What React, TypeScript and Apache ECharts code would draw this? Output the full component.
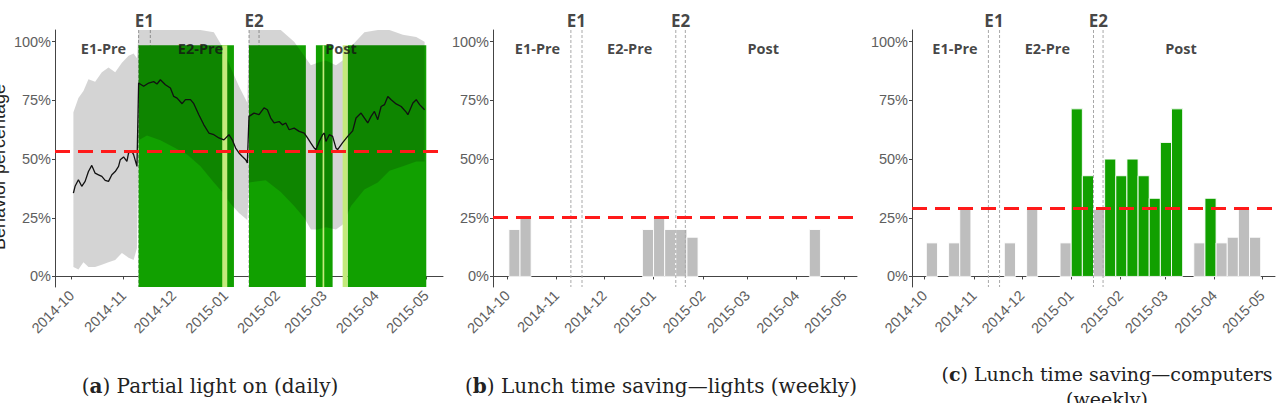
import React, { useEffect, useRef } from "react";
import * as echarts from "echarts";

// ---------- shared time frame ----------
const monthTicks = [
  "2014-10-01", "2014-11-01", "2014-12-01", "2015-01-01",
  "2015-02-01", "2015-03-01", "2015-04-01", "2015-05-01",
];
const eventNames = ["E1", "E2"];
const eventWindows = [
  ["2014-11-10", "2014-11-17"],
  ["2015-01-15", "2015-01-21"],
];
const periodNames = ["E1-Pre", "E2-Pre", "Post"];
const periodCenters = ["2014-10-20", "2014-12-17", "2015-03-11"];

// ---------- (a) partial light on, daily ----------
const lightDays = [
  "2014-10-02", "2014-10-03", "2014-10-05", "2014-10-07", "2014-10-09", "2014-10-11",
  "2014-10-13", "2014-10-15", "2014-10-17", "2014-10-19", "2014-10-21", "2014-10-23",
  "2014-10-25", "2014-10-27", "2014-10-29", "2014-10-30", "2014-11-01", "2014-11-03",
  "2014-11-04", "2014-11-06", "2014-11-07", "2014-11-09", "2014-11-10", "2014-11-13",
  "2014-11-16", "2014-11-19", "2014-11-21", "2014-11-23", "2014-11-26", "2014-11-29",
  "2014-12-01", "2014-12-03", "2014-12-06", "2014-12-08", "2014-12-11", "2014-12-13",
  "2014-12-16", "2014-12-19", "2014-12-22", "2014-12-25", "2014-12-28", "2014-12-31",
  "2015-01-03", "2015-01-05", "2015-01-07", "2015-01-09", "2015-01-11", "2015-01-13",
  "2015-01-14", "2015-01-15", "2015-01-18", "2015-01-21", "2015-01-24", "2015-01-26",
  "2015-01-28", "2015-01-30", "2015-02-02", "2015-02-04", "2015-02-06", "2015-02-08",
  "2015-02-11", "2015-02-14", "2015-02-17", "2015-02-19", "2015-02-21", "2015-02-23",
  "2015-02-24", "2015-02-26", "2015-02-28", "2015-03-01", "2015-03-02", "2015-03-04",
  "2015-03-06", "2015-03-08", "2015-03-09", "2015-03-12", "2015-03-15", "2015-03-18",
  "2015-03-20", "2015-03-23", "2015-03-27", "2015-03-29", "2015-03-31", "2015-04-02",
  "2015-04-04", "2015-04-06", "2015-04-08", "2015-04-10", "2015-04-13", "2015-04-16",
  "2015-04-19", "2015-04-20", "2015-04-23", "2015-04-25", "2015-04-27", "2015-04-30",
];
const lightOn = [
  35.5, 38.4, 41.2, 38.4, 40.5, 44.7,
  47.3, 44.0, 43.3, 42.6, 40.9, 40.5,
  43.3, 44.7, 46.9, 49.7, 50.9, 49.0,
  52.6, 53.3, 51.9, 46.9, 82.4, 81.0,
  82.4, 83.0, 82.0, 83.8, 81.7, 80.3,
  76.7, 76.0, 73.6, 75.3, 75.3, 73.6,
  68.9, 64.6, 61.1, 60.4, 59.0, 58.2,
  60.4, 58.2, 54.7, 52.6, 51.1, 49.7,
  48.3, 68.2, 69.6, 68.9, 71.8, 71.0,
  67.5, 65.4, 66.0, 64.6, 65.4, 62.5,
  63.2, 61.8, 61.1, 59.0, 56.8, 54.7,
  54.0, 57.5, 60.4, 61.1, 57.5, 60.4,
  59.7, 54.7, 54.0, 57.0, 59.7, 62.0,
  67.5, 69.6, 65.4, 68.2, 70.3, 66.8,
  72.4, 73.2, 76.7, 75.3, 73.5, 72.4,
  70.0, 68.9, 73.9, 75.3, 73.2, 71.0,
];

// uncertainty band around the daily share
const bandDays = [
  "2014-10-02", "2014-10-05", "2014-10-08", "2014-10-11", "2014-10-15", "2014-10-19",
  "2014-10-23", "2014-10-27", "2014-10-31", "2014-11-04", "2014-11-07", "2014-11-09",
  "2014-11-10", "2014-11-15", "2014-11-23", "2014-12-01", "2014-12-09", "2014-12-17",
  "2014-12-25", "2014-12-30", "2015-01-04", "2015-01-09", "2015-01-14", "2015-01-15",
  "2015-01-25", "2015-02-03", "2015-02-11", "2015-02-17", "2015-02-21", "2015-02-25",
  "2015-03-02", "2015-03-08", "2015-03-12", "2015-03-17", "2015-03-25", "2015-04-02",
  "2015-04-09", "2015-04-17", "2015-04-25", "2015-04-30",
];
const bandLow = [
  4, 3, 6, 4, 4, 5,
  6, 7, 10, 8, 7, 12,
  58, 60, 58, 55, 52, 47,
  40, 36, 31, 27, 24, 40,
  41, 36, 30, 25, 20, 20,
  21, 20, 22, 30, 37, 40,
  45, 47, 49, 49,
];
const bandHigh = [
  70, 76, 79, 84, 83, 87,
  89, 87, 91, 94, 95, 93,
  115, 115, 115, 115, 112, 108,
  104, 98, 89, 81, 74, 112,
  112, 106, 100, 94, 90, 91,
  92, 90, 92, 98, 104, 106,
  105, 103, 102, 100,
];
const lightBaseline = 53.3;
// stretches where the daily share stays above the baseline
const aboveSpans = [
  ["2014-11-10", "2015-01-06"],
  ["2015-01-15", "2015-02-18"],
  ["2015-02-24", "2015-03-06"],
  ["2015-03-15", "2015-05-01"],
];
// borderline stretches
const marginalSpans = [
  ["2014-12-30", "2015-01-02"],
  ["2015-02-28", "2015-03-01"],
  ["2015-03-12", "2015-03-15"],
];

// ---------- (b) and (c) weekly lunch time saving ----------
const weekStarts = [
  "2014-10-02", "2014-10-09", "2014-10-16", "2014-10-23", "2014-10-30", "2014-11-06",
  "2014-11-13", "2014-11-20", "2014-11-27", "2014-12-04", "2014-12-11", "2014-12-18",
  "2014-12-25", "2015-01-01", "2015-01-08", "2015-01-15", "2015-01-22", "2015-01-29",
  "2015-02-05", "2015-02-12", "2015-02-19", "2015-02-26", "2015-03-05", "2015-03-12",
  "2015-03-19", "2015-03-26", "2015-04-02", "2015-04-09", "2015-04-16", "2015-04-23",
];
const lightsSaving = [
  20, 25, null, null, null, null,
  null, null, null, null, null, null,
  20, 25, 20, 20, 16.7, null,
  null, null, null, null, null, null,
  null, null, null, 20, null, null,
];
const computersSaving = [
  14.3, null, 14.3, 28.6, null, null,
  null, 14.3, null, 28.6, null, null,
  14.3, 71.4, 42.9, 28.6, 50, 42.9,
  50, 42.9, 33.3, 57.1, 71.4, null,
  14.3, 33.3, 14.3, 16.7, 28.6, 16.7,
];
const lightsBaseline = 25.3;
const computersBaseline = 28.9;

// ---------- drawing ----------
const DAY_MS = 86400000;
const ts = (s: string): number => {
  const [y, m, d] = s.split("-").map(Number);
  return Date.UTC(y, m - 1, d);
};

const GREEN = "#11a000";
const PALE_GREEN = "#c4ea7c";
const BAR_GRAY = "#bebebe";
const BAND_FILL = "rgba(0,0,0,0.17)";
const AXIS_COLOR = "#444";
const TICK_TEXT = "#5e5e5e";
const Y_MIN = -4.5;
const Y_MAX = 105;
const LABEL_FONT = "Open Sans";

const panels = [
  { left: 55, width: 388, min: "2014-09-21", max: "2015-05-11" },
  { left: 493, width: 364, min: "2014-09-22", max: "2015-05-09" },
  { left: 912, width: 363, min: "2014-09-23", max: "2015-05-09" },
];

const monthLabel = (v: number) => {
  const d = new Date(v);
  return `${d.getUTCFullYear()}-${String(d.getUTCMonth() + 1).padStart(2, "0")}`;
};

const eventLineSeries = (idx: number, z: number) => ({
  type: "custom",
  xAxisIndex: idx,
  yAxisIndex: idx,
  silent: true,
  z,
  data: eventWindows.flat().map((d) => [ts(d), 0]),
  renderItem: (params: any, api: any) => {
    const cs = params.coordSys;
    const x = api.coord([api.value(0), 0])[0];
    return {
      type: "line",
      shape: { x1: x, y1: cs.y, x2: x, y2: cs.y + cs.height },
      style: { stroke: "#a8a8a8", lineWidth: 1, lineDash: [3, 2] },
    };
  },
});

const spanSeries = (spans: string[][], fill: string, z: number) => ({
  type: "custom",
  xAxisIndex: 0,
  yAxisIndex: 0,
  silent: true,
  z,
  data: spans.map(([a, b]) => [ts(a), ts(b), 98.5]),
  renderItem: (params: any, api: any) => {
    const cs = params.coordSys;
    const p0 = api.coord([api.value(0), api.value(2)]);
    const p1 = api.coord([api.value(1), 0]);
    return {
      type: "rect",
      shape: { x: p0[0], y: p0[1], width: p1[0] - p0[0], height: cs.y + cs.height - p0[1] },
      style: { fill },
    };
  },
});

// the band is one polygon: upper edge forwards, lower edge backwards,
// kept inside the plotting range
const bandSeries = {
  type: "custom",
  xAxisIndex: 0,
  yAxisIndex: 0,
  silent: true,
  clip: true,
  z: 3,
  data: [[ts(bandDays[0]), bandLow[0]]],
  renderItem: (_params: any, api: any) => {
    const upper = bandDays.map((d, i) => api.coord([ts(d), Math.min(bandHigh[i], Y_MAX)]));
    const lower = bandDays.map((d, i) => api.coord([ts(d), bandLow[i]])).reverse();
    return {
      type: "polygon",
      shape: { points: upper.concat(lower) },
      style: { fill: BAND_FILL },
    };
  },
};

const weeklyBarSeries = (idx: number, values: (number | null)[], baseline: number) => ({
  type: "custom",
  xAxisIndex: idx,
  yAxisIndex: idx,
  silent: true,
  z: 2,
  data: weekStarts
    .map((d, i) => [ts(d), values[i]])
    .filter((p) => p[1] !== null),
  renderItem: (_params: any, api: any) => {
    const start = api.value(0);
    const v = api.value(1);
    const p0 = api.coord([start, v]);
    const p1 = api.coord([start + 7 * DAY_MS, 0]);
    return {
      type: "rect",
      shape: { x: p0[0], y: p0[1], width: p1[0] - p0[0], height: p1[1] - p0[1] },
      style: { fill: v > baseline ? GREEN : BAR_GRAY, stroke: "#ffffff", lineWidth: 0.9 },
    };
  },
});

const labelSeries = (idx: number, baseline: number) => ({
  type: "scatter",
  xAxisIndex: idx,
  yAxisIndex: idx,
  symbolSize: 0,
  clip: false,
  silent: true,
  z: 10,
  data: [
    ...eventNames.map((n, k) => ({
      name: n,
      value: [(ts(eventWindows[k][0]) + ts(eventWindows[k][1])) / 2, 109.2],
      label: { fontSize: 17 },
    })),
    ...periodNames.map((n, k) => ({
      name: n,
      value: [ts(periodCenters[k]), 97.2],
      label: { fontSize: 14.5 },
    })),
  ],
  label: {
    show: true,
    position: "inside",
    formatter: "{b}",
    color: "#141414",
    fontWeight: "bold",
    fontFamily: LABEL_FONT,
  },
  markLine: {
    silent: true,
    symbol: ["none", "none"],
    label: { show: false },
    lineStyle: { color: "#ff1a1a", width: 3, type: [15, 8] },
    data: [{ yAxis: baseline }],
    z: 10,
  },
});

const captionStyle = (text: string, size: number) => ({
  text,
  fill: "#222",
  fontSize: size,
  fontFamily: "DejaVu Serif",
  textAlign: "center",
  textVerticalAlign: "middle",
  rich: { b: { fontWeight: "bold", fontSize: size, fontFamily: "DejaVu Serif", fill: "#222" } },
});

function buildOption() {
  const monthTs = monthTicks.map(ts);
  return {
    animation: false,
    backgroundColor: "#ffffff",
    grid: panels.map((p) => ({
      left: p.left,
      top: 30,
      width: p.width,
      height: 257,
      containLabel: false,
      outerBoundsMode: "none",
    })),
    // dates are kept as UTC milliseconds on a plain numeric axis
    xAxis: panels.map((p, i) => ({
      type: "value",
      gridIndex: i,
      min: ts(p.min),
      max: ts(p.max),
      splitLine: { show: false },
      axisLine: { show: true, lineStyle: { color: AXIS_COLOR, width: 1 } },
      axisTick: { show: true, length: 3, customValues: monthTs, lineStyle: { color: AXIS_COLOR } },
      axisLabel: {
        customValues: monthTs,
        rotate: 45,
        margin: 6,
        color: TICK_TEXT,
        fontSize: 14.5,
        fontFamily: "Liberation Sans",
        formatter: (v: number) => monthLabel(v),
      },
    })),
    yAxis: panels.map((_p, i) => ({
      type: "value",
      gridIndex: i,
      min: Y_MIN,
      max: Y_MAX,
      splitLine: { show: false },
      axisLine: { show: true, lineStyle: { color: AXIS_COLOR, width: 1 } },
      axisTick: { show: true, length: 3, customValues: [0, 25, 50, 75, 100], lineStyle: { color: AXIS_COLOR } },
      axisLabel: {
        customValues: [0, 25, 50, 75, 100],
        formatter: "{value}%",
        margin: 4,
        color: TICK_TEXT,
        fontSize: 14.5,
        fontFamily: "Liberation Sans",
      },
    })),
    series: [
      // (a)
      eventLineSeries(0, 1),
      spanSeries(aboveSpans, GREEN, 2),
      bandSeries,
      spanSeries(marginalSpans, PALE_GREEN, 4),
      {
        type: "line",
        xAxisIndex: 0,
        yAxisIndex: 0,
        silent: true,
        z: 5,
        symbol: "none",
        lineStyle: { color: "#111111", width: 1.3 },
        data: lightDays.map((d, i) => [ts(d), lightOn[i]]),
      },
      labelSeries(0, lightBaseline),
      // (b)
      weeklyBarSeries(1, lightsSaving, lightsBaseline),
      eventLineSeries(1, 3),
      labelSeries(1, lightsBaseline),
      // (c)
      weeklyBarSeries(2, computersSaving, computersBaseline),
      eventLineSeries(2, 3),
      labelSeries(2, computersBaseline),
    ],
    graphic: [
      {
        type: "text",
        x: -1,
        y: 167,
        rotation: Math.PI / 2,
        style: {
          text: "Behavior percentage",
          fill: "#222",
          fontSize: 18,
          fontFamily: "Liberation Sans",
          textAlign: "center",
          textVerticalAlign: "middle",
        },
      },
      { type: "text", x: 210, y: 386, style: captionStyle("({b|a}) Partial light on (daily)", 20) },
      { type: "text", x: 661, y: 386, style: captionStyle("({b|b}) Lunch time saving\u2014lights (weekly)", 20) },
      { type: "text", x: 1107, y: 374, style: captionStyle("({b|c}) Lunch time saving\u2014computers", 19) },
      { type: "text", x: 1107, y: 399, style: captionStyle("(weekly)", 19) },
    ],
  };
}

export default function App() {
  const ref = useRef<HTMLDivElement>(null);
  useEffect(() => {
    if (!ref.current) return;
    const chart = echarts.init(ref.current, null, { renderer: "svg" });
    chart.setOption(buildOption() as any);
    return () => chart.dispose();
  }, []);
  return (
    <div
      ref={ref}
      style={{ position: "fixed", left: 0, top: 0, width: 1279, height: 403, background: "#fff" }}
    />
  );
}
